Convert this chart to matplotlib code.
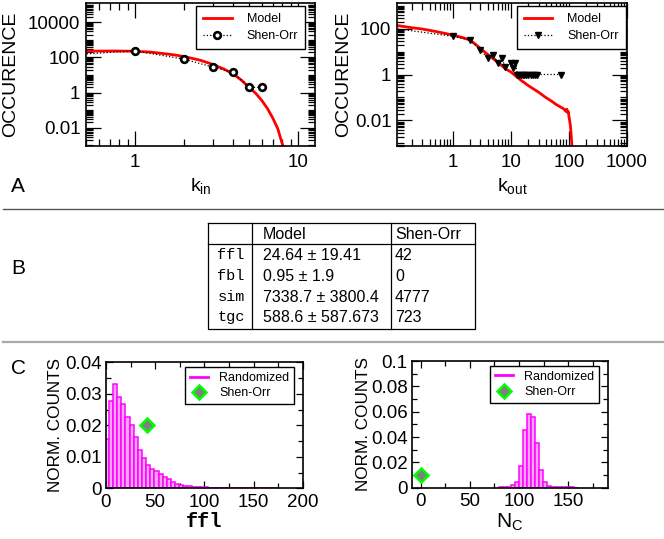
import numpy as np
import matplotlib
matplotlib.use('Agg')
import matplotlib.pyplot as plt
from matplotlib.ticker import LogLocator, FixedLocator, MultipleLocator, FuncFormatter, NullFormatter

plt.rcParams['font.family'] = ['Liberation Sans', 'DejaVu Sans']
plt.rcParams['mathtext.fontset'] = 'custom'
plt.rcParams['mathtext.rm'] = 'Liberation Sans'
plt.rcParams['mathtext.it'] = 'Liberation Sans:italic'

# ---------------- data ----------------
# Panel A left: in-degree distribution
kin_so_k = [0.4, 1, 2, 3, 4, 5, 6]
kin_so_n = [140, 235, 80, 28, 14, 2, 2]
kin_model_k = [0.45, 0.5, 0.75, 1, 1.25, 1.5, 1.75, 2, 2.5, 3, 3.5, 4, 4.5, 5, 5.5, 6, 6.5, 7, 7.5, 8, 8.5]
kin_model_n = [225, 228, 232, 225, 200, 165, 138, 112, 70, 40, 22, 11.5, 5.0, 2.0, 0.9, 0.35, 0.12, 0.035,
               0.009, 0.0012, 0.0003]

# Panel A right: out-degree distribution
kout_so_k = [0.1, 1, 2, 3, 4, 5, 6, 7, 8, 10, 11, 12, 13, 14, 15, 16, 17, 18, 20, 22, 24, 26, 28, 74]
kout_so_n = [100, 46, 32, 11.5, 5.2, 7.2, 3.1, 5.3, 2.1, 3.1, 2.0, 3.1, 1, 1, 1, 1, 1, 1, 1, 1, 1, 1, 1, 1]
kout_model_k = [0.1, 0.2, 0.3, 0.5, 0.7, 1, 1.5, 2, 2.5, 3, 4, 5, 6, 8, 10, 15, 20, 30, 40, 50, 60, 70,
                80, 85, 88, 92, 95, 98, 100, 103, 106, 110, 113, 120]
kout_model_n = [140, 108, 95, 75, 63, 52, 40, 31, 20, 13.5, 7.5, 4.8, 3.4, 1.8, 1.3, 0.56, 0.33, 0.17, 0.10,
                0.07, 0.05, 0.04, 0.033, 0.029, 0.025, 0.031, 0.022, 0.024, 0.015, 0.01, 0.006, 0.002, 0.0007, 0.0002]

# Panel B: table
table_rows = ['ffl', 'fbl', 'sim', 'tgc']
table_model = ['24.64 \u00b1 19.41', '0.95 \u00b1 1.9', '7338.7 \u00b1 3800.4', '588.6 \u00b1 587.673']
table_shenorr = ['42', '0', '4777', '723']

# Panel C left: ffl histogram (bin width 4.2)
ffl_bin_width = 4.2
ffl_first_left = -1.2
ffl_counts = [0.0158, 0.0278, 0.0332, 0.0290, 0.0268, 0.0226, 0.0200, 0.0163, 0.0122, 0.0095, 0.0075,
              0.0062, 0.0056, 0.0045, 0.0035, 0.0028, 0.0020, 0.0014, 0.0011, 0.0007, 0.0006, 0.0005,
              0.0004, 0.0003, 0.0003, 0.0002, 0.0002, 0.0002, 0.0002, 0.0002, 0.0001, 0.0001, 0.0001,
              0.00005, 0.00005, 0.00005, 0.00005, 0.00005, 0.00005, 0.00005, 0.00005, 0.00005]
ffl_shenorr = (42, 0.02)

# Panel C right: N_C histogram (bin width 4)
nc_bin_width = 4
nc_first_left = 80
nc_counts = [0.0002, 0.0002, 0.0004, 0.0020, 0.0048, 0.0175, 0.046, 0.058, 0.0555, 0.035, 0.014,
             0.0045, 0.0013, 0.0005, 0.0003, 0.0003, 0.0002, 0.0002, 0.0002, 0.0001]
nc_shenorr = (0, 0.01)

# ---------------- figure ----------------
W, H = 664, 539
fig = plt.figure(figsize=(W / 100, H / 100), dpi=100)


def px_axes(x0, y0, x1, y1):
    return fig.add_axes([x0 / W, 1 - y1 / H, (x1 - x0) / W, (y1 - y0) / H])


def fmt_g(v, pos):
    return '%g' % v


def style_ax(ax, major_len, minor_len):
    for s in ax.spines.values():
        s.set_linewidth(1.2)
    ax.tick_params(which='both', direction='in', top=True, right=True, width=0.9)
    ax.tick_params(which='major', length=major_len)
    ax.tick_params(which='minor', length=minor_len)


RED = '#ff0000'

# ----- A left -----
axA1 = px_axes(86, 3.3, 315, 145.7)
axA1.set_xscale('log')
axA1.set_yscale('log')
axA1.plot(kin_model_k, kin_model_n, color=RED, lw=2.0, label='Model', zorder=2)
axA1.plot(kin_so_k, kin_so_n, color='black', lw=0.9, ls=':', marker='o', ms=4.8, mfc='white',
          mec='black', mew=1.9, markevery=list(range(1, len(kin_so_k))), label='Shen-Orr', zorder=3)
axA1.set_xlim(0.5, 12.7)
axA1.set_ylim(9.5e-4, 1.2e5)
axA1.yaxis.set_major_locator(FixedLocator([0.01, 1, 100, 10000]))
axA1.yaxis.set_minor_locator(LogLocator(base=10, subs=np.arange(1, 10), numticks=100))
axA1.xaxis.set_major_locator(FixedLocator([1, 10]))
axA1.xaxis.set_minor_locator(LogLocator(base=10, subs=np.arange(1, 10), numticks=100))
axA1.xaxis.set_major_formatter(FuncFormatter(fmt_g))
axA1.yaxis.set_major_formatter(FuncFormatter(fmt_g))
axA1.xaxis.set_minor_formatter(NullFormatter())
axA1.yaxis.set_minor_formatter(NullFormatter())
style_ax(axA1, 10.5, 5)
axA1.tick_params(axis='both', labelsize=13.5)
axA1.tick_params(axis='y', pad=4)
axA1.tick_params(axis='x', pad=6)
axA1.set_ylabel('OCCURENCE', fontsize=14)
axA1.yaxis.set_label_coords(-0.29, 0.5)
axA1.set_xlabel(r'k$_{\rm in}$', fontsize=14)
axA1.xaxis.set_label_coords(0.5, -0.215)
axA1.legend(loc='upper right', bbox_to_anchor=(0.956, 0.981), borderaxespad=0, fontsize=9,
            fancybox=False, framealpha=1, edgecolor='black', handlelength=2.3, handletextpad=1.2,
            borderpad=0.55, labelspacing=0.4).get_frame().set_linewidth(1.0)

# ----- A right -----
axA2 = px_axes(397, 3.3, 627, 145.7)
axA2.set_xscale('log')
axA2.set_yscale('log')
axA2.plot(kout_model_k, kout_model_n, color=RED, lw=2.0, label='Model', zorder=2)
axA2.plot(kout_so_k, kout_so_n, color='black', lw=0.9, ls=':', marker='v', ms=5, mfc='black',
          mec='black', markevery=list(range(1, len(kout_so_k))), label='Shen-Orr', zorder=3)
axA2.set_xlim(0.11, 1000)
axA2.set_ylim(8e-4, 1.25e3)
axA2.yaxis.set_major_locator(FixedLocator([0.01, 1, 100]))
axA2.yaxis.set_minor_locator(LogLocator(base=10, subs=np.arange(1, 10), numticks=100))
axA2.xaxis.set_major_locator(FixedLocator([1, 10, 100, 1000]))
axA2.xaxis.set_minor_locator(LogLocator(base=10, subs=np.arange(1, 10), numticks=100))
axA2.xaxis.set_major_formatter(FuncFormatter(fmt_g))
axA2.yaxis.set_major_formatter(FuncFormatter(fmt_g))
axA2.xaxis.set_minor_formatter(NullFormatter())
axA2.yaxis.set_minor_formatter(NullFormatter())
style_ax(axA2, 10.5, 5)
axA2.tick_params(axis='both', labelsize=13.5)
axA2.tick_params(axis='y', pad=4)
axA2.tick_params(axis='x', pad=6)
axA2.set_ylabel('OCCURENCE', fontsize=14)
axA2.yaxis.set_label_coords(-0.195, 0.5)
axA2.set_xlabel(r'k$_{\rm out}$', fontsize=14)
axA2.xaxis.set_label_coords(0.5, -0.215)
axA2.legend(loc='upper right', bbox_to_anchor=(0.995, 0.981), borderaxespad=0, fontsize=9,
            fancybox=False, framealpha=1, edgecolor='black', handlelength=2.3, handletextpad=1.2,
            borderpad=0.55, labelspacing=0.4).get_frame().set_linewidth(1.0)

# ----- C left -----
BAR_FACE = '#ffa6ff'
BAR_EDGE = '#ff00ff'
axC1 = px_axes(106, 362.3, 302.7, 488.3)
ffl_lefts = ffl_first_left + ffl_bin_width * np.arange(len(ffl_counts))
axC1.bar(ffl_lefts, ffl_counts, width=ffl_bin_width, align='edge', facecolor=BAR_FACE,
         edgecolor=BAR_EDGE, linewidth=1.1, zorder=2)
axC1.plot([], [], color=BAR_EDGE, lw=2, label='Randomized')
axC1.plot([ffl_shenorr[0]], [ffl_shenorr[1]], ls='none', marker='D', ms=7.5, mfc='#808080',
          mec='#00ff00', mew=1.8, label='Shen-Orr', zorder=4)
axC1.set_xlim(0, 200)
axC1.set_ylim(0, 0.04)
axC1.xaxis.set_major_locator(MultipleLocator(50))
axC1.xaxis.set_minor_locator(MultipleLocator(25))
axC1.yaxis.set_major_locator(MultipleLocator(0.01))
axC1.yaxis.set_minor_locator(MultipleLocator(0.005))
axC1.xaxis.set_major_formatter(FuncFormatter(fmt_g))
axC1.yaxis.set_major_formatter(FuncFormatter(fmt_g))
style_ax(axC1, 5, 3.5)
axC1.tick_params(axis='both', labelsize=13.5)
axC1.tick_params(axis='y', pad=3)
axC1.tick_params(axis='x', pad=4)
axC1.set_ylabel('NORM. COUNTS', fontsize=12.3)
axC1.yaxis.set_label_coords(-0.22, 0.5)
axC1.set_xlabel('ffl', fontsize=14.5, family=['Liberation Mono', 'DejaVu Sans Mono'], fontweight='bold')
axC1.xaxis.set_label_coords(0.5, -0.19)
axC1.legend(loc='upper right', bbox_to_anchor=(0.957, 0.96), borderaxespad=0, fontsize=9,
            fancybox=False, framealpha=1, edgecolor='black', handlelength=1.4, handletextpad=0.9,
            borderpad=0.4, labelspacing=0.25).get_frame().set_linewidth(1.0)

# ----- C right -----
axC2 = px_axes(411.7, 361.2, 607.7, 487.7)
nc_lefts = nc_first_left + nc_bin_width * np.arange(len(nc_counts))
axC2.bar(nc_lefts, nc_counts, width=nc_bin_width, align='edge', facecolor=BAR_FACE,
         edgecolor=BAR_EDGE, linewidth=1.1, zorder=2)
axC2.plot([], [], color=BAR_EDGE, lw=2, label='Randomized')
axC2.plot([nc_shenorr[0]], [nc_shenorr[1]], ls='none', marker='D', ms=7.5, mfc='#808080',
          mec='#00ff00', mew=1.8, label='Shen-Orr', zorder=4)
axC2.set_xlim(-9, 190)
axC2.set_ylim(0, 0.1)
axC2.xaxis.set_major_locator(MultipleLocator(50))
axC2.xaxis.set_minor_locator(MultipleLocator(25))
axC2.yaxis.set_major_locator(MultipleLocator(0.02))
axC2.yaxis.set_minor_locator(MultipleLocator(0.01))
axC2.xaxis.set_major_formatter(FuncFormatter(fmt_g))
axC2.yaxis.set_major_formatter(FuncFormatter(fmt_g))
style_ax(axC2, 5, 3.5)
axC2.tick_params(axis='both', labelsize=13.5)
axC2.tick_params(axis='y', pad=3)
axC2.tick_params(axis='x', pad=4)
axC2.set_ylabel('NORM. COUNTS', fontsize=12.3)
axC2.yaxis.set_label_coords(-0.206, 0.5)
axC2.set_xlabel(r'N$_{\rm C}$', fontsize=15)
axC2.xaxis.set_label_coords(0.5, -0.19)
axC2.legend(loc='upper right', bbox_to_anchor=(0.957, 0.964), borderaxespad=0, fontsize=9,
            fancybox=False, framealpha=1, edgecolor='black', handlelength=1.4, handletextpad=0.9,
            borderpad=0.4, labelspacing=0.25).get_frame().set_linewidth(1.0)

# ----- overlay: separators, table, panel letters -----
ov = fig.add_axes([0, 0, 1, 1], zorder=-1)
ov.set_xlim(0, W)
ov.set_ylim(H, 0)
ov.axis('off')

ov.plot([3, W], [209.3, 209.3], color='#555555', lw=1.0)
ov.plot([3, W], [341.7, 341.7], color='#aaaaaa', lw=1.6)

# table frame
tx0, tx1, tx2, tx3 = 208.3, 252.3, 390.7, 475
ty0, ty1, ty2 = 223.3, 244.3, 329.3
lkw = dict(color='black', lw=0.9)
ov.plot([tx0, tx3, tx3, tx0, tx0], [ty0, ty0, ty2, ty2, ty0], **lkw)
ov.plot([tx0, tx3], [ty1, ty1], **lkw)
ov.plot([tx1, tx1], [ty0, ty2], **lkw)
ov.plot([tx2, tx2], [ty0, ty2], **lkw)

ov.text(262.7, 234.3, 'Model', fontsize=11.5, va='center', ha='left')
ov.text(395, 234.3, 'Shen-Orr', fontsize=11.5, va='center', ha='left')
row_y = [255, 276.3, 297, 317.5]
for name, m, s, yy in zip(table_rows, table_model, table_shenorr, row_y):
    ov.text(217.5, yy, name, fontsize=11, va='center', ha='left',
            family=['Liberation Mono', 'DejaVu Sans Mono'])
    ov.text(262.7, yy, m, fontsize=11.5, va='center', ha='left')
    ov.text(395, yy, s, fontsize=11.5, va='center', ha='left')

ov.text(18, 186, 'A', fontsize=15, ha='center', va='center')
ov.text(18, 268.5, 'B', fontsize=15, ha='center', va='center')
ov.text(18, 369, 'C', fontsize=15, ha='center', va='center')

fig.savefig('out.png', dpi=100)
